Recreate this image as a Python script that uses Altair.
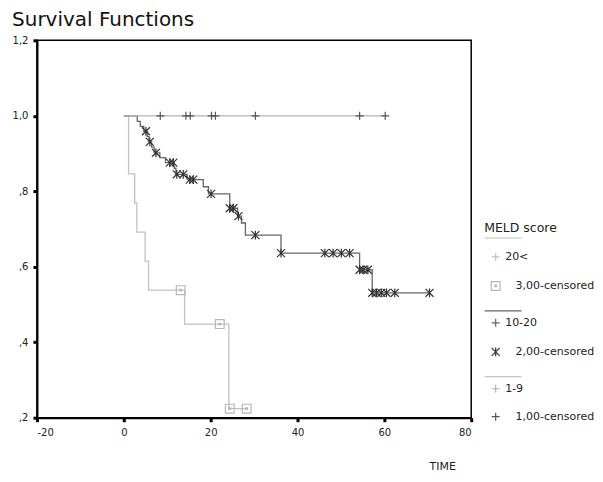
import altair as alt
import pandas as pd

# ---- data -------------------------------------------------------------------
# group "20<" (step curve + censored)
g3_time = [0, 1.1, 2.5, 3.0, 4.9, 5.7, 14.0, 24.2, 28.3]
g3_surv = [1.0, 0.846, 0.769, 0.692, 0.615, 0.538, 0.448, 0.224, 0.224]
g3_cens_time = [13.1, 22.1, 24.4, 28.3]
g3_cens_surv = [0.538, 0.448, 0.224, 0.224]

# group "10-20"
g2_time = [0, 3.1, 3.8, 4.6, 5.4, 5.8, 6.4, 7.0, 8.3, 9.6, 11.6, 12.0, 14.6,
           18.3, 19.5, 24.4, 26.2, 27.1, 28.0, 36.2, 54.3, 57.2, 70.4]
g2_surv = [1.0, 0.985, 0.972, 0.959, 0.945, 0.931, 0.917, 0.902, 0.889, 0.876,
           0.861, 0.845, 0.831, 0.812, 0.793, 0.755, 0.734, 0.716, 0.684,
           0.636, 0.592, 0.531, 0.531]
g2_cens_time = [5.1, 6.0, 7.4, 10.6, 11.4, 12.2, 13.7, 15.2, 16.0, 20.1, 24.4,
                25.2, 26.4, 30.3, 36.2, 46.3, 48.2, 50.1, 52.0, 54.3, 55.1,
                56.2, 57.2, 58.2, 59.3, 60.5, 62.4, 70.4]
g2_cens_surv = [0.959, 0.931, 0.902, 0.876, 0.876, 0.845, 0.845, 0.831, 0.831,
                0.793, 0.755, 0.755, 0.734, 0.684, 0.636, 0.636, 0.636, 0.636,
                0.636, 0.592, 0.592, 0.592, 0.531, 0.531, 0.531, 0.531, 0.531,
                0.531]

# group "1-9"
g1_time = [0, 60.2]
g1_surv = [1.0, 1.0]
g1_cens_time = [8.4, 14.3, 15.3, 20.2, 21.1, 30.3, 54.3, 60.2]
g1_cens_surv = [1.0] * 8

legend_order = ["20<", "3,00-censored", "10-20", "2,00-censored", "1-9",
                "1,00-censored"]

# ---- tables -------------------------------------------------------------------
lines = pd.concat([
    pd.DataFrame({"t": g3_time, "s": g3_surv, "key": "20<"}),
    pd.DataFrame({"t": g2_time, "s": g2_surv, "key": "10-20"}),
    pd.DataFrame({"t": g1_time, "s": g1_surv, "key": "1-9"}),
])
cens = pd.concat([
    pd.DataFrame({"t": g3_cens_time, "s": g3_cens_surv, "key": "3,00-censored"}),
    pd.DataFrame({"t": g2_cens_time, "s": g2_cens_surv, "key": "2,00-censored"}),
    pd.DataFrame({"t": g1_cens_time, "s": g1_cens_surv, "key": "1,00-censored"}),
])

# ---- styles -------------------------------------------------------------------
plus = "M-1,0L1,0M0,-1L0,1"
sep_first = "M-2.75,-4.75L6.5,-4.75"
sep = "M-2.75,-3L6.5,-3"
star = "M-1,-1L1,1M-1,1L1,-1M0,-1.1L0,1.1"
box = ("M-1.1,-1.1L1.1,-1.1L1.1,1.1L-1.1,1.1Z"
       "M-0.2,-0.2L0.2,-0.2L0.2,0.2L-0.2,0.2Z")
legend_shapes = [sep_first + plus, box, sep + plus, star, sep + plus, plus]
legend_colors = ["#c2c2c2", "#b8b8b8", "#666666", "#333333", "#b4b4b4",
                 "#555555"]

x_scale = alt.Scale(domain=[-20, 80], nice=False, zero=False)
y_scale = alt.Scale(domain=[0.2, 1.2], nice=False, zero=False)
color_scale = alt.Scale(domain=legend_order, range=legend_colors)
shape_scale = alt.Scale(domain=legend_order, range=legend_shapes)

x_axis = alt.Axis(values=[-20, 0, 20, 40, 60, 80], title="TIME", grid=False,
                  domainColor="black", domainWidth=2, tickColor="black",
                  tickSize=4, tickWidth=3, labelFontSize=10,
                  labelColor="#222222", labelPadding=6, titleFontSize=11,
                  titleFontWeight="normal", titleColor="#222222",
                  titleX=406, titleY=49, titleAlign="center",
                  titleBaseline="middle",
                  labelExpr="datum.value < 0 ? '-' + abs(datum.value) : '' + datum.value")
y_axis = alt.Axis(values=[0.2, 0.4, 0.6, 0.8, 1.0, 1.2], title=None,
                  grid=False, domainColor="black", domainWidth=2,
                  tickColor="black", tickSize=4, tickWidth=3,
                  labelFontSize=10, labelColor="#222222", labelPadding=5,
                  labelExpr="datum.value < 1 ? replace(format(datum.value, '.1f'), '0.', ',') : replace(format(datum.value, '.1f'), '.', ',')")

lab_expr = ("indexof(datum.label, 'censored') > 0 ? "
            "'\u200b\u00a0\u00a0\u00a0' + datum.label : datum.label")
leg = alt.Legend(title="MELD score", labelExpr=lab_expr)

curves = alt.Chart(lines).mark_line(interpolate="step-after",
                                    strokeWidth=1.3).encode(
    x=alt.X("t:Q", scale=x_scale, axis=x_axis),
    y=alt.Y("s:Q", scale=y_scale, axis=y_axis),
    color=alt.Color("key:N", scale=color_scale, legend=leg),
    detail="key:N",
)

marks = alt.Chart(cens).mark_point(filled=False, size=64,
                                   strokeWidth=1.2, opacity=1).encode(
    x=alt.X("t:Q", scale=x_scale),
    y=alt.Y("s:Q", scale=y_scale),
    shape=alt.Shape("key:N", scale=shape_scale, legend=leg),
    color=alt.Color("key:N", scale=color_scale, legend=leg),
)

chart = alt.layer(curves, marks).properties(
    width=435, height=378,
    title=alt.TitleParams("Survival Functions", anchor="start", fontSize=20,
                          fontWeight="normal", color="#111111", offset=5),
    padding={"left": 4, "top": 2, "right": 0, "bottom": 0},
).configure(
    font="DejaVu Sans",
).configure_view(
    stroke="black", strokeWidth=1.5,
).configure_legend(
    orient="none", legendX=448, legendY=182,
    symbolSize=64, symbolStrokeWidth=1.2, symbolOffset=6,
    labelFontSize=11, labelColor="#222222", labelOffset=4,
    titleFontSize=12.5, titleFontWeight="normal", titleColor="#222222",
    titlePadding=17, rowPadding=15,
)

chart.save("out.html", embed_options={"renderer": "svg", "actions": False})
